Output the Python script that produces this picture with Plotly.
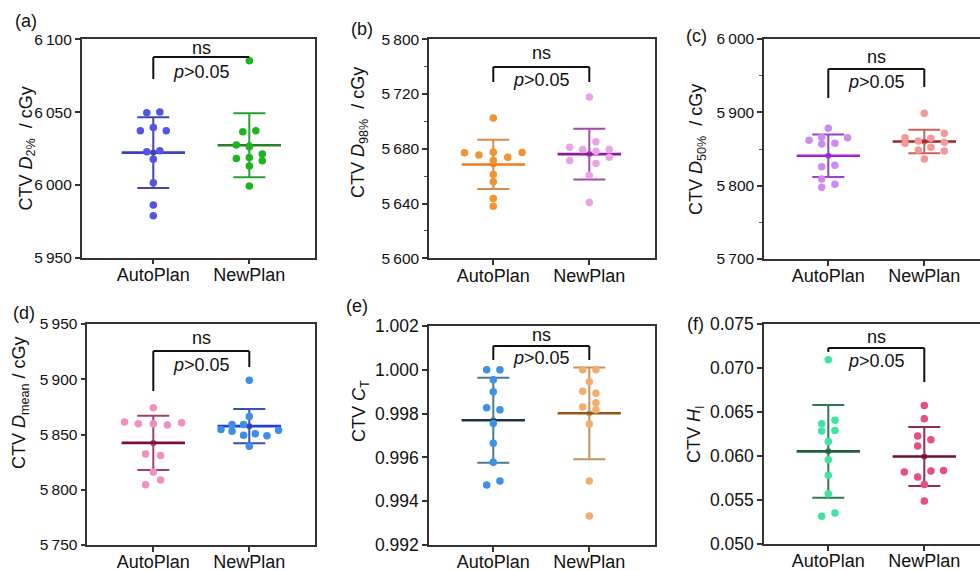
import numpy as np
import plotly.graph_objects as go

W, H = 980, 571
FONT = "Arial, 'Liberation Sans', sans-serif"

categories = ["AutoPlan", "NewPlan"]

# ---------------- data ----------------
# (a) CTV D2% / cGy
a_auto = [6049.6, 6050.1, 6037.2, 6039.5, 6037.2, 6022.8, 6023.5, 6017.6, 6001.5, 5986.2, 5978.8]
a_new = [6085.3, 6036.5, 6037.2, 6027.4, 6026.2, 6018.2, 6018.9, 6021.2, 6013.0, 6016.6, 5999.2]
# (b) CTV D98% / cGy
b_auto = [5702.5, 5677.1, 5675.4, 5677.5, 5673.9, 5677.3, 5671.5, 5661.3, 5656.0, 5643.6, 5638.0]
b_new = [5717.8, 5681.2, 5679.5, 5685.1, 5678.3, 5679.5, 5671.5, 5669.3, 5673.9, 5660.6, 5640.7]
# (c) CTV D50% / cGy
c_auto = [5878.2, 5861.8, 5865.9, 5865.4, 5856.8, 5857.7, 5825.8, 5827.7, 5809.0, 5797.7, 5801.8]
c_new = [5898.6, 5865.4, 5857.7, 5860.9, 5864.5, 5871.4, 5859.1, 5848.6, 5852.3, 5847.2, 5836.3]
# (d) CTV Dmean / cGy
d_auto = [5874.2, 5861.2, 5859.7, 5859.7, 5858.5, 5860.6, 5832.4, 5830.9, 5816.1, 5804.5, 5808.8]
d_new = [5899.1, 5866.4, 5854.5, 5859.1, 5853.0, 5859.1, 5849.4, 5850.6, 5848.8, 5839.4, 5853.9]
# (e) CTV CT
e_auto = [1.00000, 1.00000, 0.99955, 0.99900, 0.99827, 0.99818, 0.99755, 0.99665, 0.99578, 0.99474, 0.99492]
e_new = [1.00000, 1.00000, 0.99945, 0.99902, 0.99893, 0.99830, 0.99850, 0.99818, 0.99752, 0.99492, 0.99332]
# (f) CTV HI
f_auto = [0.07094, 0.06367, 0.06405, 0.06284, 0.06291, 0.06166, 0.05958, 0.05780, 0.05572, 0.05314, 0.05352]
f_new = [0.06575, 0.06424, 0.06227, 0.06185, 0.06114, 0.05818, 0.05830, 0.05836, 0.05761, 0.05677, 0.05489]

# horizontal spread of the dots (fraction of category spacing)
a_auto_jit = [-0.068, 0.068, -0.135, 0, 0.135, -0.068, 0.068, 0, 0, 0, 0]
a_new_jit = [0, -0.068, 0.068, -0.135, 0, -0.135, 0, 0.135, 0, 0.135, 0]
b_auto_jit = [0, -0.30, -0.15, 0, 0.15, 0.30, 0, 0, 0, 0, 0]
b_new_jit = [0, -0.205, -0.069, 0.069, 0.069, 0.208, -0.205, 0.069, 0.208, 0, 0]
c_auto_jit = [0, -0.20, -0.069, 0.20, -0.069, 0.069, -0.069, 0.069, -0.069, -0.069, 0.069]
c_new_jit = [0, -0.20, -0.20, -0.0625, 0.069, 0.208, 0.208, -0.0625, 0.069, 0.208, 0]
d_auto_jit = [0, -0.30, -0.156, 0, 0.146, 0.295, -0.08, 0.076, 0, -0.08, 0.076]
d_new_jit = [0, 0, -0.295, -0.18, -0.18, -0.06, -0.06, 0.0625, 0.184, 0, 0.305]
e_auto_jit = [-0.069, 0.069, 0, 0, -0.069, 0.069, 0, 0, 0, -0.069, 0.069]
e_new_jit = [-0.069, 0.069, 0, -0.069, 0.069, -0.069, 0.069, 0.069, 0, 0, 0]
f_auto_jit = [0, -0.069, 0.069, -0.069, 0.069, 0, 0, 0, 0, -0.069, 0.069]
f_new_jit = [0, 0, -0.069, 0.069, -0.069, -0.208, 0.069, 0.20, -0.069, 0, 0]

# tick values / labels (thin space as thousands separator)
a_yticks = [5950, 6000, 6050, 6100]
a_yticktext = ["5\u2009950", "6\u2009000", "6\u2009050", "6\u2009100"]
b_yticks = [5600, 5640, 5680, 5720, 5760]
b_yticktext = ["5\u2009600", "5\u2009640", "5\u2009680", "5\u2009720", "5\u2009800"]
c_yticks = [5700, 5800, 5900, 6000]
c_yticktext = ["5\u2009700", "5\u2009800", "5\u2009900", "6\u2009000"]
d_yticks = [5750, 5800, 5850, 5900, 5950]
d_yticktext = ["5\u2009750", "5\u2009800", "5\u2009850", "5\u2009900", "5\u2009950"]
e_yticks = [0.992, 0.994, 0.996, 0.998, 1.000, 1.002]
e_yticktext = ["0.992", "0.994", "0.996", "0.998", "1.000", "1.002"]
f_yticks = [0.050, 0.055, 0.060, 0.065, 0.070, 0.075]
f_yticktext = ["0.050", "0.055", "0.060", "0.065", "0.070", "0.075"]

panel_labels = ["(a)", "(b)", "(c)", "(d)", "(e)", "(f)"]
y_titles = [
    "CTV <i>D</i><sub>2%</sub>  / cGy",
    "CTV <i>D</i><sub>98%</sub>  / cGy",
    "CTV <i>D</i><sub>50%</sub>  / cGy",
    "CTV <i>D</i><sub>mean</sub> / cGy",
    "CTV <i>C</i><sub>T</sub>",
    "CTV <i>H</i><sub>I</sub>",
]

# ---------------- layout / style per panel ----------------
def px_x(p):
    return p / W

def px_y(p):
    return 1 - p / H

panels = [
    dict(auto=a_auto, new=a_new, ja=a_auto_jit, jn=a_new_jit, ticks=a_yticks, ticktext=a_yticktext,
         yrange=[5950, 6100], box=(81.7, 315, 39.3, 257.7), c1=153.3, minor=None, tfs=15.5,
         col=("#5157e3", "#3a3fc4", "#3f44b8", "#1db41d", "#2a7f2a", "#27a032"),
         br=(0.919, 0.818, None, 0.960, 0.850), lab=(26, 21), tit=(27, 148.5)),
    dict(auto=b_auto, new=b_new, ja=b_auto_jit, jn=b_new_jit, ticks=b_yticks, ticktext=b_yticktext,
         yrange=[5600, 5760], box=(429, 655, 39.3, 258.3), c1=493.3, minor=20, tfs=15.5,
         col=("#f3922f", "#f07a1c", "#d98a4a", "#eba3e8", "#8b1a9c", "#a44aae"),
         br=(0.874, 0.805, 0.805, 0.937, 0.814), lab=(362, 29), tit=(359, 133)),
    dict(auto=c_auto, new=c_new, ja=c_auto_jit, jn=c_new_jit, ticks=c_yticks, ticktext=c_yticktext,
         yrange=[5700, 6000], box=(764, 980, 39, 259), c1=828.3, minor=50, tfs=15.5,
         col=("#cf8cf0", "#a020e0", "#9a40c8", "#f39898", "#a02525", "#d06060"),
         br=(0.864, 0.732, 0.782, 0.918, 0.805), lab=(696, 36), tit=(697, 150)),
    dict(auto=d_auto, new=d_new, ja=d_auto_jit, jn=d_new_jit, ticks=d_yticks, ticktext=d_yticktext,
         yrange=[5750, 5950], box=(87.3, 315, 324, 545), c1=153.3, minor=None, tfs=15.5,
         col=("#f18ec2", "#7c0b3e", "#a0406e", "#3d8ee9", "#1c3fe0", "#3a4fb0"),
         br=(0.878, 0.697, 0.805, 0.937, 0.814), lab=(24, 313), tit=(20, 403)),
    dict(auto=e_auto, new=e_new, ja=e_auto_jit, jn=e_new_jit, ticks=e_yticks, ticktext=e_yticktext,
         yrange=[0.992, 1.002], box=(429, 655, 326, 545), c1=493.3, minor=None, tfs=17.5,
         col=("#3d91e8", "#1d3444", "#4c7c88", "#f3ad6c", "#9a5514", "#c4935e"),
         br=(0.909, 0.845, 0.845, 0.959, 0.854), lab=(357, 306), tit=(360, 411)),
    dict(auto=f_auto, new=f_new, ja=f_auto_jit, jn=f_new_jit, ticks=f_yticks, ticktext=f_yticktext,
         yrange=[0.050, 0.075], box=(764, 980, 324, 544), c1=828.3, minor=None, tfs=17.5,
         col=("#41e3a3", "#1f5e3e", "#2c7a52", "#ea4d82", "#6e1232", "#902c55"),
         br=(0.891, 0.873, 0.736, 0.941, 0.832), lab=(695, 324), tit=(695, 434)),
]

CAT_PX = 96.0     # pixel distance between the two categories
MEAN_HW = 0.33    # half width of the mean bar (category units)

fig = go.Figure()
shapes = []
annotations = []
layout = {}

for i, p in enumerate(panels):
    n = i + 1
    xa = "x" if n == 1 else f"x{n}"
    ya = "y" if n == 1 else f"y{n}"
    xl = "xaxis" if n == 1 else f"xaxis{n}"
    yl = "yaxis" if n == 1 else f"yaxis{n}"
    left, right, top, bottom = p["box"]
    x0 = 1 - (p["c1"] - left) / CAT_PX
    x1 = x0 + (right - left) / CAT_PX
    cut = right >= W  # panel cut by the image edge

    groups = [(1, p["auto"], p["ja"], p["col"][0], p["col"][1], p["col"][2]),
              (2, p["new"], p["jn"], p["col"][3], p["col"][4], p["col"][5])]
    for cx, vals, jit, pcol, mcol, ecol in groups:
        v = np.array(vals, dtype=float)
        m = float(v.mean())
        sd = float(v.std(ddof=1))
        fig.add_trace(go.Scatter(
            x=[cx], y=[m], xaxis=xa, yaxis=ya, mode="markers",
            marker=dict(size=0, color=ecol),
            error_y=dict(type="data", array=[sd], color=ecol, thickness=2, width=16),
            hoverinfo="skip", showlegend=False))
        fig.add_trace(go.Scatter(
            x=[cx - MEAN_HW, cx + MEAN_HW], y=[m, m], xaxis=xa, yaxis=ya, mode="lines",
            line=dict(color=mcol, width=2.6), hoverinfo="skip", showlegend=False))
        fig.add_trace(go.Scatter(
            x=cx + np.array(jit), y=v, xaxis=xa, yaxis=ya, mode="markers",
            marker=dict(size=7.5, color=pcol, line=dict(width=0)),
            showlegend=False, cliponaxis=False))

    layout[xl] = dict(
        domain=[px_x(left), min(1.0, px_x(right))], anchor=ya, range=[x0, x1],
        tickmode="array", tickvals=[1, 2], ticktext=categories,
        showline=True, mirror=True, linecolor="#333", linewidth=1.5,
        ticks="outside", ticklen=5, tickwidth=1.5, tickcolor="#333",
        ticklabelstandoff=-5,
        showgrid=False, zeroline=False, automargin=False,
        tickfont=dict(family=FONT, size=18, color="#111"))
    ydict = dict(
        domain=[px_y(bottom), px_y(top)], anchor=xa, range=p["yrange"],
        tickmode="array", tickvals=p["ticks"], ticktext=p["ticktext"],
        showline=True, mirror=(not cut), linecolor="#333", linewidth=1.5,
        ticks="outside", ticklen=5, tickwidth=1.5, tickcolor="#333",
        showgrid=False, zeroline=False, automargin=False,
        tickfont=dict(family=FONT, size=p["tfs"], color="#111"))
    if p["minor"]:
        ydict["minor"] = dict(tickmode="linear", tick0=p["yrange"][0], dtick=p["minor"],
                              ticks="outside", ticklen=3, tickwidth=1.2, tickcolor="#555")
    layout[yl] = ydict

    # significance bracket
    hy, lly, rly, nsy, py = p["br"]
    yref = f"{ya} domain"
    shapes.append(dict(type="line", xref=xa, yref=yref, x0=1, x1=2, y0=hy, y1=hy,
                       line=dict(color="#111", width=2)))
    shapes.append(dict(type="line", xref=xa, yref=yref, x0=1, x1=1, y0=hy, y1=lly,
                       line=dict(color="#111", width=2)))
    if rly is not None:
        shapes.append(dict(type="line", xref=xa, yref=yref, x0=2, x1=2, y0=hy, y1=rly,
                           line=dict(color="#111", width=2)))
    annotations.append(dict(xref=xa, yref=yref, x=1.5, y=nsy, text="ns", showarrow=False,
                            xanchor="center", yanchor="middle",
                            font=dict(family=FONT, size=18, color="#111")))
    annotations.append(dict(xref=xa, yref=yref, x=1.5, y=py, text="<i>p</i>>0.05", showarrow=False,
                            xanchor="center", yanchor="middle",
                            font=dict(family=FONT, size=18, color="#111")))
    # panel label
    lx, lyy = p["lab"]
    annotations.append(dict(xref="paper", yref="paper", x=px_x(lx), y=px_y(lyy), text=panel_labels[i],
                            showarrow=False, xanchor="center", yanchor="middle",
                            font=dict(family=FONT, size=18, color="#111")))
    # y-axis title
    tx, ty = p["tit"]
    annotations.append(dict(xref="paper", yref="paper", x=px_x(tx), y=px_y(ty), text=y_titles[i],
                            showarrow=False, xanchor="center", yanchor="middle", textangle=-90,
                            font=dict(family=FONT, size=18, color="#111")))

fig.update_layout(
    width=W, height=H, margin=dict(l=0, r=0, t=0, b=0, pad=0, autoexpand=False),
    paper_bgcolor="white", plot_bgcolor="white",
    showlegend=False, shapes=shapes, annotations=annotations,
    font=dict(family=FONT, color="#111"),
    **layout)

fig.write_html("out.html", config={"displayModeBar": False},
               post_script="document.body.style.margin='0';document.body.style.overflow='hidden';")
